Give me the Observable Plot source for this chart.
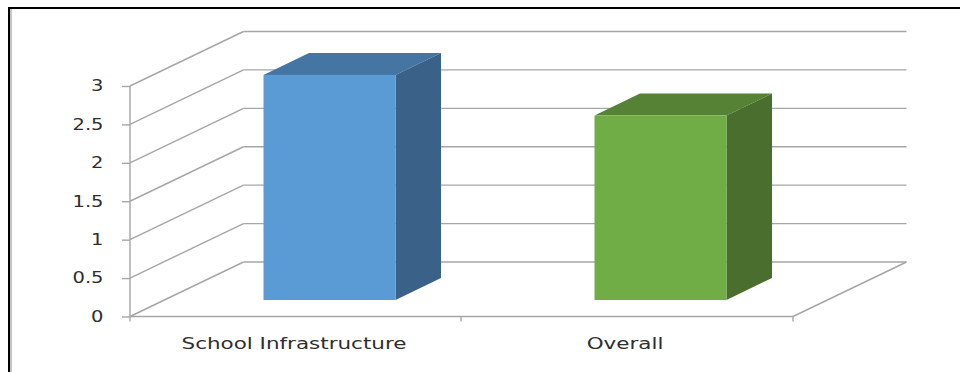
<!DOCTYPE html>
<html>
<head>
<meta charset="utf-8">
<script src="https://cdn.jsdelivr.net/npm/d3@7"></script>
<script src="https://cdn.jsdelivr.net/npm/@observablehq/plot@0.6"></script>
<style>
  html, body { margin: 0; padding: 0; background: #fff; overflow: hidden; }
  #chart { position: relative; width: 960px; height: 372px; }
  #chart svg { position: absolute; left: 0; top: 0; background: transparent; }
  /* Picture border: only the top and left edges are in view */
  #border { position: absolute; left: 8px; top: 7px; right: 0; bottom: 0;
            border-top: 2px solid #000; border-left: 2px solid #000;
            box-shadow: inset 2px 0 0 #c4c4c4; }
</style>
</head>
<body>
<div id="chart"><div id="border"></div></div>
<script>
const categories = ["School Infrastructure", "Overall"];
const scores = [2.93, 2.4];
const frontColors = ["#5b9bd5", "#70ad47"];
const topColors = ["#4575a2", "#558235"];
const sideColors = ["#3a6288", "#4a6e2e"];
const yTicks = [0, 0.5, 1, 1.5, 2, 2.5, 3];

const rows = categories.map((name, i) => ({
  name, score: scores[i], front: frontColors[i], top: topColors[i], side: sideColors[i]
}));

// Oblique projection: depth of the walls, of the bar offset and of the bar itself
const wall = {dx: 113.5, dy: -54.5};
const barShift = {dx: 33.5, dy: -16.5};
const barDepth = {dx: 45.5, dy: -22};
const gridColor = "#a6a6a6";
const gridWidth = 1.4;
const font = "'DejaVu Sans', sans-serif";

// Floor, side wall and band ticks of the 3D box, placed from the plot's scales
function box(index, {x, y}) {
  const g = d3.create("svg:g").attr("fill", "none").attr("stroke", gridColor).attr("stroke-width", gridWidth);
  const [x0, x1] = x.range();
  const y0 = y(0);
  const seg = (a, b, c, d) => g.append("line").attr("x1", a).attr("y1", b).attr("x2", c).attr("y2", d);
  for (const t of yTicks) {
    seg(x0, y(t), x0 + wall.dx, y(t) + wall.dy);
    seg(x0 + wall.dx, y(t) + wall.dy, x1 + wall.dx, y(t) + wall.dy);
  }
  seg(x0, y(yTicks[yTicks.length - 1]), x0, y0);
  seg(x0, y0, x1, y0);
  seg(x1, y0, x1 + wall.dx, y0 + wall.dy);
  categories.forEach((c, i) => seg(x0 + x.step() * i, y0, x0 + x.step() * i, y0 + 5));
  seg(x1, y0, x1, y0 + 5);
  return g.node();
}

// Top and side faces of each bar, behind its front face
function barFaces(index, {x, y}) {
  const g = d3.create("svg:g");
  const w = x.bandwidth();
  for (const r of rows) {
    const left = x(r.name) + barShift.dx;
    const right = left + w;
    const top = y(r.score) + barShift.dy;
    const bottom = y(0) + barShift.dy;
    const {dx, dy} = barDepth;
    g.append("polygon").attr("fill", r.top)
      .attr("points", [[left, top], [left + dx, top + dy], [right + dx, top + dy], [right, top]].join(" "));
    g.append("polygon").attr("fill", r.side)
      .attr("points", [[right, top], [right + dx, top + dy], [right + dx, bottom + dy], [right, bottom]].join(" "));
  }
  return g.node();
}

const chart = Plot.plot({
  width: 960,
  height: 372,
  marginLeft: 130,
  marginRight: 167,
  marginTop: 86,
  marginBottom: 55.5,
  style: {fontFamily: font, overflow: "visible", background: "transparent"},
  x: {type: "band", domain: categories, paddingInner: 0.6, paddingOuter: 0.3, label: null},
  y: {domain: [0, 3], label: null},
  marks: [
    box,
    barFaces,
    Plot.barY(rows, {x: "name", y: "score", fill: "front", dx: barShift.dx, dy: barShift.dy}),
    Plot.axisY({
      ticks: yTicks, tickSize: 8, tickPadding: 19, tickFormat: d => String(d),
      stroke: gridColor, strokeWidth: gridWidth, color: "#2e2e2e", fontSize: 15, label: null
    }),
    Plot.axisX({
      tickSize: 0, tickPadding: 21, color: "#2e2e2e", fontSize: 15.5, dx: -2.5, label: null
    })
  ]
});

document.getElementById("chart").appendChild(chart);

// The chart's lettering is set wide: widen each label by a fixed factor
function widen(selector, factor) {
  chart.querySelectorAll(selector).forEach(t => {
    t.setAttribute("textLength", t.getComputedTextLength() * factor);
    t.setAttribute("lengthAdjust", "spacingAndGlyphs");
  });
}
widen('[aria-label="y-axis tick label"] text', 1.3);
widen('[aria-label="x-axis tick label"] text', 1.385);
</script>
</body>
</html>
